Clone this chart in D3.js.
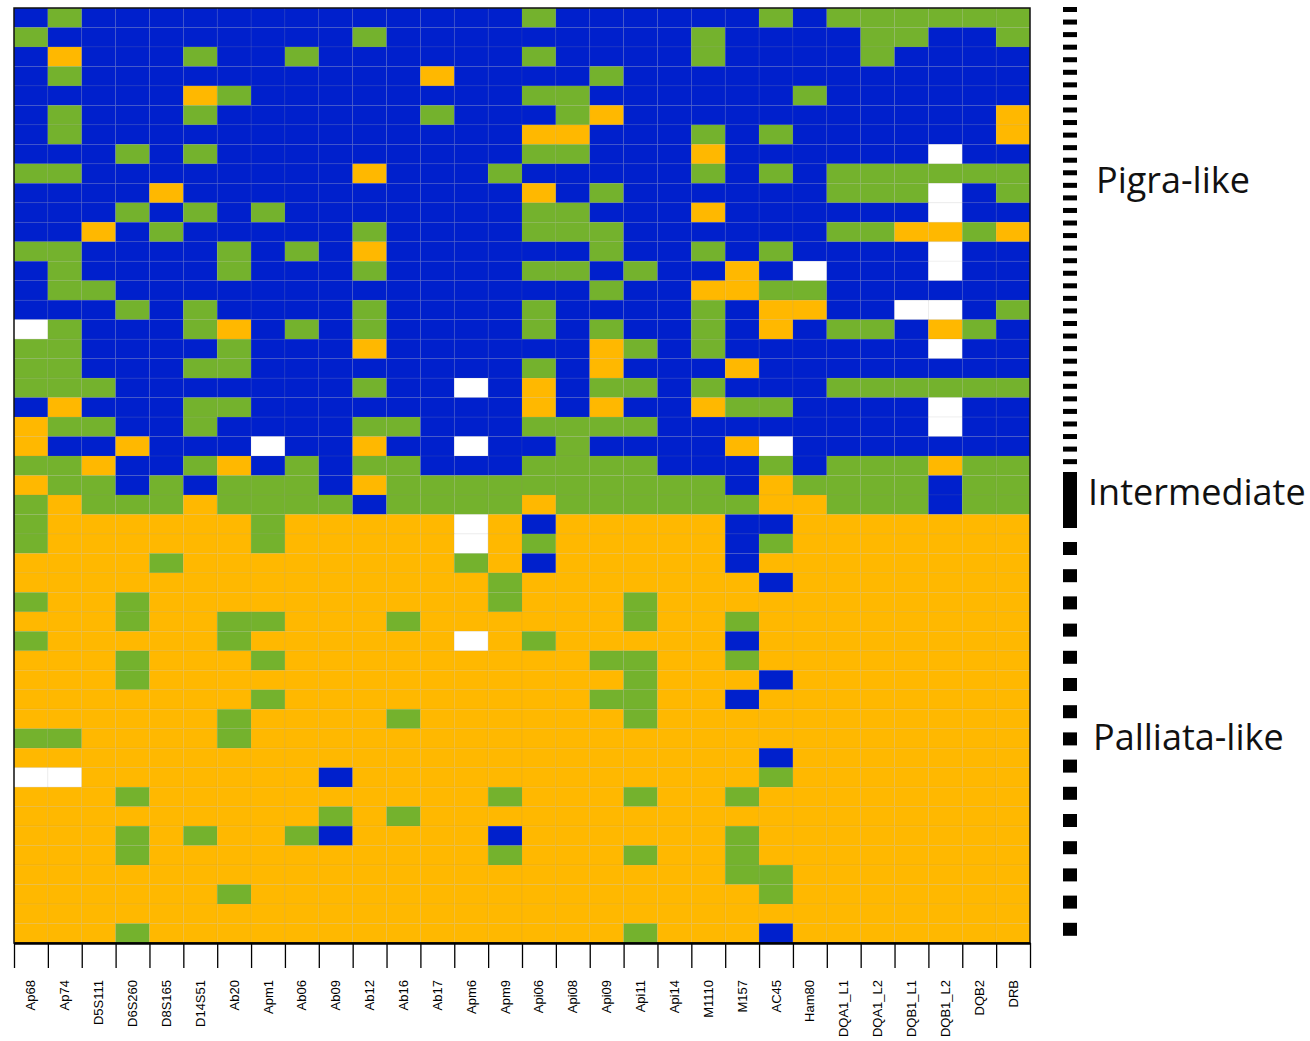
<!DOCTYPE html>
<html><head><meta charset="utf-8">
<script src="https://cdn.jsdelivr.net/npm/d3@7"></script>
<style>body{margin:0;background:#fff}</style>
</head><body><svg id="c" width="1310" height="1041"></svg>
<script>
const markers = ["Ap68","Ap74","D5S111","D6S260","D8S165","D14S51","Ab20","Apm1","Ab06","Ab09","Ab12","Ab16","Ab17","Apm6","Apm9","Api06","Api08","Api09","Api11","Api14","M1110","M157","AC45","Ham80","DQA1_L1","DQA1_L2","DQB1_L1","DQB1_L2","DQB2","DRB"];

// B = pigra allele, G = heterozygous, Y = palliata allele, W = missing
const genotypeRows = [
"BGBBB BBBBB BBBBB GBBBB BBGBG GGGGG",
"GBBBB BBBBB GBBBB BBBBB GBBBB GGBBG",
"BYBBB GBBGB BBBBB GBBBB GBBBB GBBBB",
"BGBBB BBBBB BBYBB BBGBB BBBBB BBBBB",
"BBBBB YGBBB BBBBB GGBBB BBBGB BBBBB",
"BGBBB GBBBB BBGBB BGYBB BBBBB BBBBY",
"BGBBB BBBBB BBBBB YYBBB GBGBB BBBBY",
"BBBGB GBBBB BBBBB GGBBB YBBBB BBWBB",
"GGBBB BBBBB YBBBG BBBBB GBGBG GGGGG",
"BBBBY BBBBB BBBBB YBGBB BBBBG GGWBG",
"BBBGB GBGBB BBBBB GGBBB YBBBB BBWBB",
"BBYBG BBBBB GBBBB GGGBB BBBBG GYYGY",
"GGBBB BGBGB YBBBB BBGBB GBGBB BBWBB",
"BGBBB BGBBB GBBBB GGBGB BYBWB BBWBB",
"BGGBB BBBBB BBBBB BBGBB YYGGB BBBBB",
"BBBGB GBBBB GBBBB GBBBB GBYYB BWWBG",
"WGBBB GYBGB GBBBB GBGBB GBYBG GBYGB",
"GGBBB BGBBB YBBBB BBYGB GBBBB BBWBB",
"GGBBB GGBBB BBBBB GBYBB BYBBB BBBBB",
"GGGBB BBBBB GBBWB YBGGB GBBBG GGGGG",
"BYBBB GGBBB BBBBB YBYBB YGGBB BBWBB",
"YGGBB GBBBB GGBBB GGGGB BBBBB BBWBB",
"YBBYB BBWBB YBBWB BGBBB BYWBB BBBBB",
"GGYBB GYBGB GGBBB GGGGB BBGBG GGYGG",
"YGGBG BGGGB YGGGG GGGGG GBYGG GGBGG",
"GYGGG YGGGG BGGGG YGGGG GGYYG GGBGG",
"GYYYY YYGYY YYYWY BYYYY YBBYY YYYYY",
"GYYYY YYGYY YYYWY GYYYY YBGYY YYYYY",
"YYYYG YYYYY YYYGY BYYYY YBYYY YYYYY",
"YYYYY YYYYY YYYYG YYYYY YYBYY YYYYY",
"GYYGY YYYYY YYYYG YYYGY YYYYY YYYYY",
"YYYGY YGGYY YGYYY YYYGY YGYYY YYYYY",
"GYYYY YGYYY YYYWY GYYYY YBYYY YYYYY",
"YYYGY YYGYY YYYYY YYGGY YGYYY YYYYY",
"YYYGY YYYYY YYYYY YYYGY YYBYY YYYYY",
"YYYYY YYGYY YYYYY YYGGY YBYYY YYYYY",
"YYYYY YGYYY YGYYY YYYGY YYYYY YYYYY",
"GGYYY YGYYY YYYYY YYYYY YYYYY YYYYY",
"YYYYY YYYYY YYYYY YYYYY YYBYY YYYYY",
"WWYYY YYYYB YYYYY YYYYY YYGYY YYYYY",
"YYYGY YYYYY YYYYG YYYGY YGYYY YYYYY",
"YYYYY YYYYG YGYYY YYYYY YYYYY YYYYY",
"YYYGY GYYGB YYYYB YYYYY YGYYY YYYYY",
"YYYGY YYYYY YYYYG YYYGY YGYYY YYYYY",
"YYYYY YYYYY YYYYY YYYYY YGGYY YYYYY",
"YYYYY YGYYY YYYYY YYYYY YYGYY YYYYY",
"YYYYY YYYYY YYYYY YYYYY YYYYY YYYYY",
"YYYGY YYYYY YYYYY YYYGY YYBYY YYYYY"
];

const stateKeys = ["B","G","Y","W"];
const stateColors = ["#0020cc","#74b22d","#ffb800","#ffffff"];

const groupLabels = ["Pigra-like","Intermediate","Palliata-like"];
const groupMarkCounts = [37, 1, 15];

const svg = d3.select("#c");
const L = 14, R = 1030, T = 8, Bm = 943;
const rows = genotypeRows.map(s => s.replace(/ /g, ""));
const color = d3.scaleOrdinal().domain(stateKeys).range(stateColors);
const x = d3.scaleBand().domain(markers).range([L, R]);
const y = d3.scaleBand().domain(d3.range(rows.length)).range([T, Bm]);

const cells = [];
rows.forEach((s, i) => markers.forEach((m, j) => cells.push({ r: i, m: m, v: s[j] })));

svg.append("g").selectAll("rect").data(cells).join("rect")
  .attr("x", d => x(d.m)).attr("y", d => y(d.r))
  .attr("width", x.bandwidth()).attr("height", y.bandwidth())
  .attr("fill", d => color(d.v))
  .attr("stroke", "rgba(140,140,140,0.13)").attr("stroke-width", 0.8);

// frame
svg.append("rect").attr("x", L).attr("y", T).attr("width", R - L).attr("height", Bm - T)
  .attr("fill", "none").attr("stroke", "#111").attr("stroke-width", 1.5);

// ticks at cell boundaries
const xt = d3.scaleLinear().domain([0, markers.length]).range([L, R]);
const ax = svg.append("g").attr("transform", `translate(0,${Bm})`)
  .call(d3.axisBottom(xt).tickValues(d3.range(markers.length + 1)).tickSize(25).tickSizeOuter(0).tickFormat(""));
ax.select(".domain").attr("stroke", "#000").attr("stroke-width", 2.5);
ax.selectAll(".tick line").attr("stroke", "#000").attr("stroke-width", 1.3);

// labels
const lab = svg.append("g").attr("transform", `translate(0,${Bm})`)
  .call(d3.axisBottom(x).tickSize(0).tickPadding(0));
lab.select(".domain").remove();
lab.selectAll("text")
  .attr("transform", "rotate(-90)")
  .attr("text-anchor", "end")
  .attr("x", -37).attr("y", 0).attr("dy", "0.35em")
  .style("font-family", "'Liberation Sans', Arial, sans-serif")
  .style("font-size", "13px").attr("fill", "#000");

// group bar on the right
const barX = 1063, barW = 14;
const g = svg.append("g");
g.selectAll(".pig").data(d3.range(groupMarkCounts[0])).join("rect")
  .attr("x", barX).attr("y", i => 7 + i * 12.56).attr("width", barW).attr("height", 5).attr("fill", "#000");
g.append("rect").attr("x", barX).attr("y", 472).attr("width", barW).attr("height", 56).attr("fill", "#000");
g.selectAll(".pal").data(d3.range(groupMarkCounts[2])).join("rect")
  .attr("x", barX).attr("y", i => 542 + i * 27.2).attr("width", barW).attr("height", 13).attr("fill", "#000");

const labelPos = [[1096, 193], [1088, 505], [1093, 750]];
g.selectAll("text.grp").data(groupLabels).join("text")
  .attr("class", "grp")
  .attr("x", (d, i) => labelPos[i][0]).attr("y", (d, i) => labelPos[i][1])
  .text(d => d)
  .style("font-family", "'Open Sans', sans-serif").style("font-size", "36px").attr("fill", "#111");
</script>
</body></html>
